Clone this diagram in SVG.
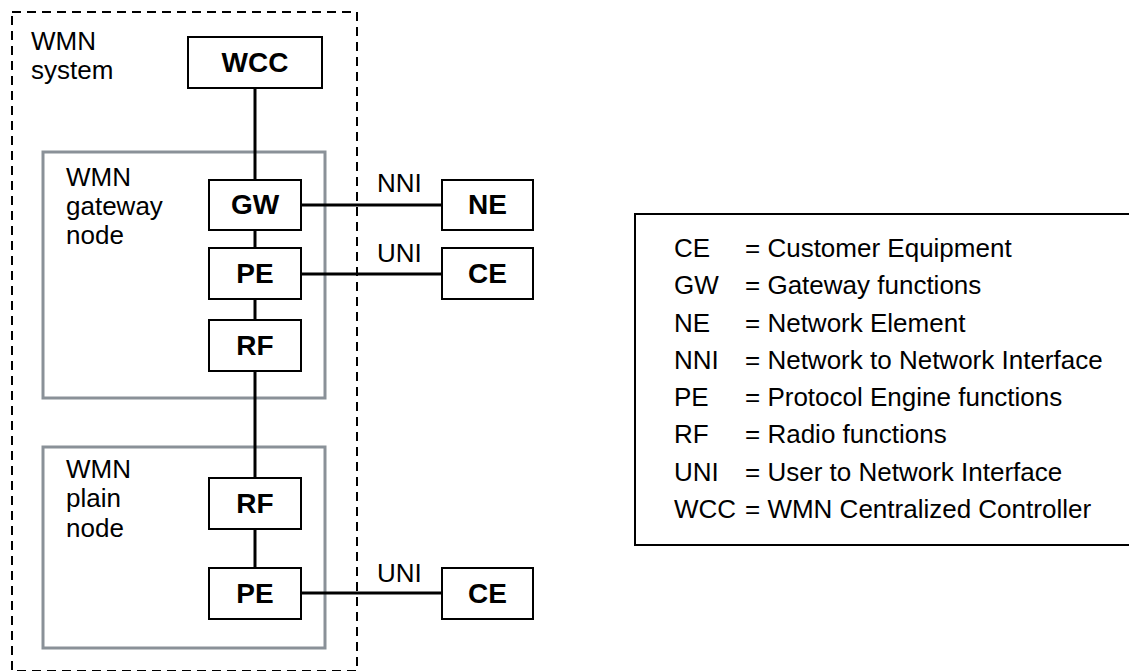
<svg xmlns="http://www.w3.org/2000/svg" width="1129" height="671" viewBox="0 0 1129 671">
<style>
.box{fill:#fff;stroke:#000;stroke-width:2}
.grp{fill:none;stroke:#8a9198;stroke-width:3}
.dash{fill:none;stroke:#000;stroke-width:2;stroke-dasharray:9 6}
.ln{stroke:#000;stroke-width:3;fill:none}
.b{font-family:"Liberation Sans",Arial,sans-serif;font-weight:bold;font-size:28px;text-anchor:middle;fill:#000}
.t{font-family:"Liberation Sans",Arial,sans-serif;font-size:26px;fill:#000}
</style>
<rect width="1129" height="671" fill="#fff"/>
<g id="wmn-system">
<rect class="dash" x="12" y="12" width="345" height="659"/>
<text class="t" x="31" y="50">WMN</text>
<text class="t" x="31" y="79">system</text>
</g>
<g id="gateway-node">
<rect class="grp" x="43" y="152" width="282" height="246"/>
<text class="t" x="66" y="186">WMN</text>
<text class="t" x="66" y="215">gateway</text>
<text class="t" x="66" y="244">node</text>
</g>
<g id="plain-node">
<rect class="grp" x="43" y="447" width="282" height="201"/>
<text class="t" x="66" y="478">WMN</text>
<text class="t" x="66" y="507">plain</text>
<text class="t" x="66" y="537">node</text>
</g>
<g id="connectors">
<line class="ln" x1="255" y1="88" x2="255" y2="180"/>
<line class="ln" x1="255" y1="230" x2="255" y2="248"/>
<line class="ln" x1="255" y1="299" x2="255" y2="320"/>
<line class="ln" x1="255" y1="371" x2="255" y2="478"/>
<line class="ln" x1="255" y1="529" x2="255" y2="568"/>
<line class="ln" x1="301" y1="205" x2="442" y2="205"/>
<line class="ln" x1="301" y1="274" x2="442" y2="274"/>
<line class="ln" x1="301" y1="593" x2="442" y2="593"/>
<text class="t" x="377" y="192">NNI</text>
<text class="t" x="377" y="262">UNI</text>
<text class="t" x="377" y="582">UNI</text>
</g>
<g id="wcc">
<rect class="box" x="188" y="37" width="134" height="51"/>
<text class="b" x="255" y="72">WCC</text>
</g>
<g id="gw">
<rect class="box" x="209" y="180" width="92" height="50"/>
<text class="b" x="255" y="214">GW</text>
</g>
<g id="pe1">
<rect class="box" x="209" y="248" width="92" height="51"/>
<text class="b" x="255" y="283">PE</text>
</g>
<g id="rf1">
<rect class="box" x="209" y="320" width="92" height="51"/>
<text class="b" x="255" y="355">RF</text>
</g>
<g id="rf2">
<rect class="box" x="209" y="478" width="92" height="51"/>
<text class="b" x="255" y="513">RF</text>
</g>
<g id="pe2">
<rect class="box" x="209" y="568" width="92" height="51"/>
<text class="b" x="255" y="603">PE</text>
</g>
<g id="ne">
<rect class="box" x="442" y="180" width="91" height="50"/>
<text class="b" x="487.5" y="214">NE</text>
</g>
<g id="ce1">
<rect class="box" x="442" y="248" width="91" height="51"/>
<text class="b" x="487.5" y="283">CE</text>
</g>
<g id="ce2">
<rect class="box" x="442" y="568" width="91" height="51"/>
<text class="b" x="487.5" y="603">CE</text>
</g>
<g id="legend">
<path d="M1135 214 H635 V545 H1135" fill="none" stroke="#000" stroke-width="2"/>
<text class="t" x="674" y="257">CE</text><text class="t" x="745" y="257">= Customer Equipment</text>
<text class="t" x="674" y="294">GW</text><text class="t" x="745" y="294">= Gateway functions</text>
<text class="t" x="674" y="332">NE</text><text class="t" x="745" y="332">= Network Element</text>
<text class="t" x="674" y="369">NNI</text><text class="t" x="745" y="369">= Network to Network Interface</text>
<text class="t" x="674" y="406">PE</text><text class="t" x="745" y="406">= Protocol Engine functions</text>
<text class="t" x="674" y="443">RF</text><text class="t" x="745" y="443">= Radio functions</text>
<text class="t" x="674" y="481">UNI</text><text class="t" x="745" y="481">= User to Network Interface</text>
<text class="t" x="674" y="518">WCC</text><text class="t" x="745" y="518">= WMN Centralized Controller</text>
</g>
</svg>
